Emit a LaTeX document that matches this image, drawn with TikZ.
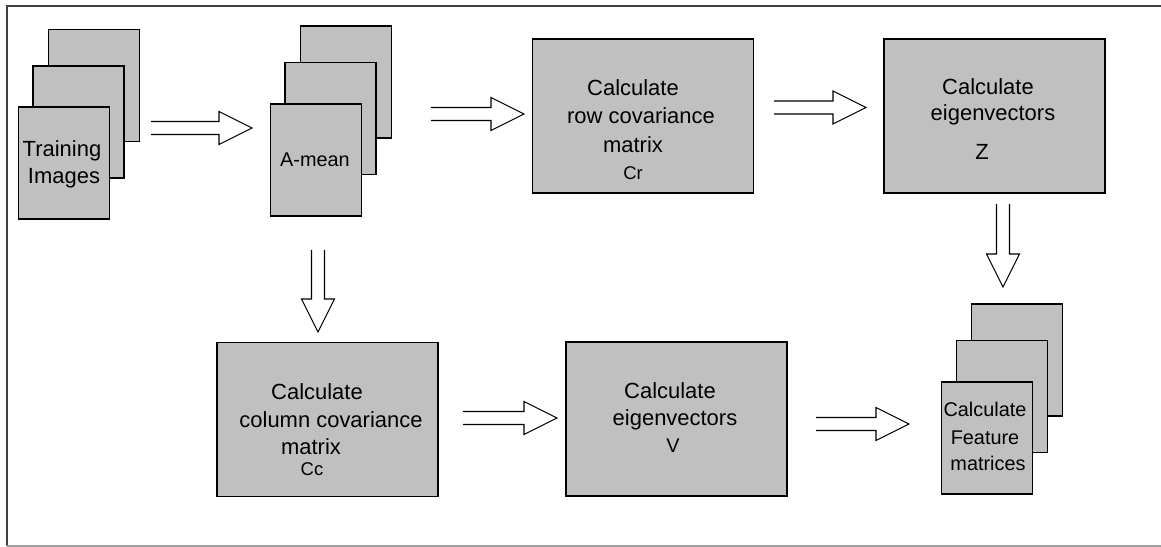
\documentclass[tikz,border=0pt]{standalone}
\usepackage{fontspec}
\setmainfont{Liberation Sans}
\usetikzlibrary{calc}
\definecolor{boxgray}{HTML}{C0C0C0}
\definecolor{framedark}{HTML}{404040}
\definecolor{framelight}{HTML}{A0A0A0}
\tikzset{
  sheet/.style={draw=black, line width=0.9pt, fill=boxgray, inner sep=0pt, outer sep=0pt,
    minimum width=1.82cm, minimum height=2.24cm},
  procbox/.style={draw=black, line width=0.9pt, fill=boxgray, inner sep=0pt, outer sep=0pt,
    minimum width=4.42cm, minimum height=3.08cm},
  lbl/.style={anchor=base, inner sep=0pt, font=\fontsize{12.5pt}{14pt}\selectfont},
  slbl/.style={anchor=base, inner sep=0pt, font=\fontsize{11.3pt}{13pt}\selectfont},
  tlbl/.style={anchor=base, inner sep=0pt, font=\fontsize{10.5pt}{12pt}\selectfont},
  arrowline/.style={draw=black, line width=0.6pt, line join=miter},
}
\newcommand{\fatarr}[3]{% #1 start, #2 tip, #3 name of head base
  \coordinate (#3) at ($(#2)!0.66cm!(#1)$);
  \draw[arrowline] ($(#1)!0.13cm!90:(#2)$) -- ($(#3)!0.13cm!-90:(#1)$)
    -- ($(#3)!0.33cm!-90:(#1)$) -- (#2) -- ($(#3)!0.33cm!90:(#1)$)
    -- ($(#3)!0.13cm!90:(#1)$) -- ($(#1)!0.13cm!-90:(#2)$);
}
\begin{document}
\begin{tikzpicture}[x=0.02cm, y=-0.02cm]
\useasboundingbox (0,0) rectangle (1161,547);
% outer frame
\draw[framedark, line width=0.9pt] (7,546) -- (7,6) -- (1161,6);
\draw[framelight, line width=0.9pt] (7,546) -- (1161,546);

% Training images stack
\node[sheet] (tr3) at (94,85.5) {};
\node[sheet] (tr2) at (78.5,122) {};
\node[sheet] (tr1) at (64,163) {};
\node[lbl] (trA) at (62,157) {Training};
\node[lbl] (trB) at (64,184) {Images};

% A-mean stack
\node[sheet] (am3) at (346,82) {};
\node[sheet] (am2) at (330.5,118.5) {};
\node[sheet] (am1) at (316,160) {};
\node[slbl] (amA) at (315,167) {A-mean};

% Row covariance box
\node[procbox] (row) at (643,116) {};
\node[lbl] (rowA) at (633,96) {Calculate};
\node[lbl] (rowB) at (641,124) {row covariance};
\node[lbl] (rowC) at (633,153) {matrix};
\node[tlbl] (rowD) at (633,180) {Cr};

% Eigenvectors Z box
\node[procbox] (zb) at (994.5,116) {};
\node[lbl] (zA) at (988,95) {Calculate};
\node[lbl] (zB) at (993,121) {eigenvectors};
\node[lbl] (zC) at (982,160) {Z};

% Column covariance box
\node[procbox] (col) at (327.5,419.5) {};
\node[lbl] (colA) at (317,400) {Calculate};
\node[lbl] (colB) at (331,428) {column covariance};
\node[lbl] (colC) at (311,455) {matrix};
\node[tlbl] (colD) at (312,476) {Cc};

% Eigenvectors V box
\node[procbox] (vb) at (676.5,419) {};
\node[lbl] (vA) at (670,399) {Calculate};
\node[lbl] (vB) at (675,426) {eigenvectors};
\node[slbl] (vC) at (673,453) {V};

% Feature matrices stack
\node[sheet] (fm3) at (1017,360) {};
\node[sheet] (fm2) at (1002,396.5) {};
\node[sheet] (fm1) at (987,438) {};
\node[slbl] (fmA) at (985,417) {Calculate};
\node[slbl] (fmB) at (985,445) {Feature};
\node[slbl] (fmC) at (988,471) {matrices};

% arrow end points
\coordinate (s1) at (151,128);  \coordinate (t1) at (252,128);
\coordinate (s2) at (431,114);  \coordinate (t2) at (524,114);
\coordinate (s3) at (774,107.5);\coordinate (t3) at (866,107.5);
\coordinate (s4) at (318,250);  \coordinate (t4) at (318,332);
\coordinate (s5) at (463,418);  \coordinate (t5) at (557,418);
\coordinate (s6) at (816,424);  \coordinate (t6) at (909,424);
\coordinate (s7) at (1003,204); \coordinate (t7) at (1003,287);

\fatarr{s1}{t1}{h1}
\fatarr{s2}{t2}{h2}
\fatarr{s3}{t3}{h3}
\fatarr{s4}{t4}{h4}
\fatarr{s5}{t5}{h5}
\fatarr{s6}{t6}{h6}
\fatarr{s7}{t7}{h7}
\end{tikzpicture}
\end{document}
